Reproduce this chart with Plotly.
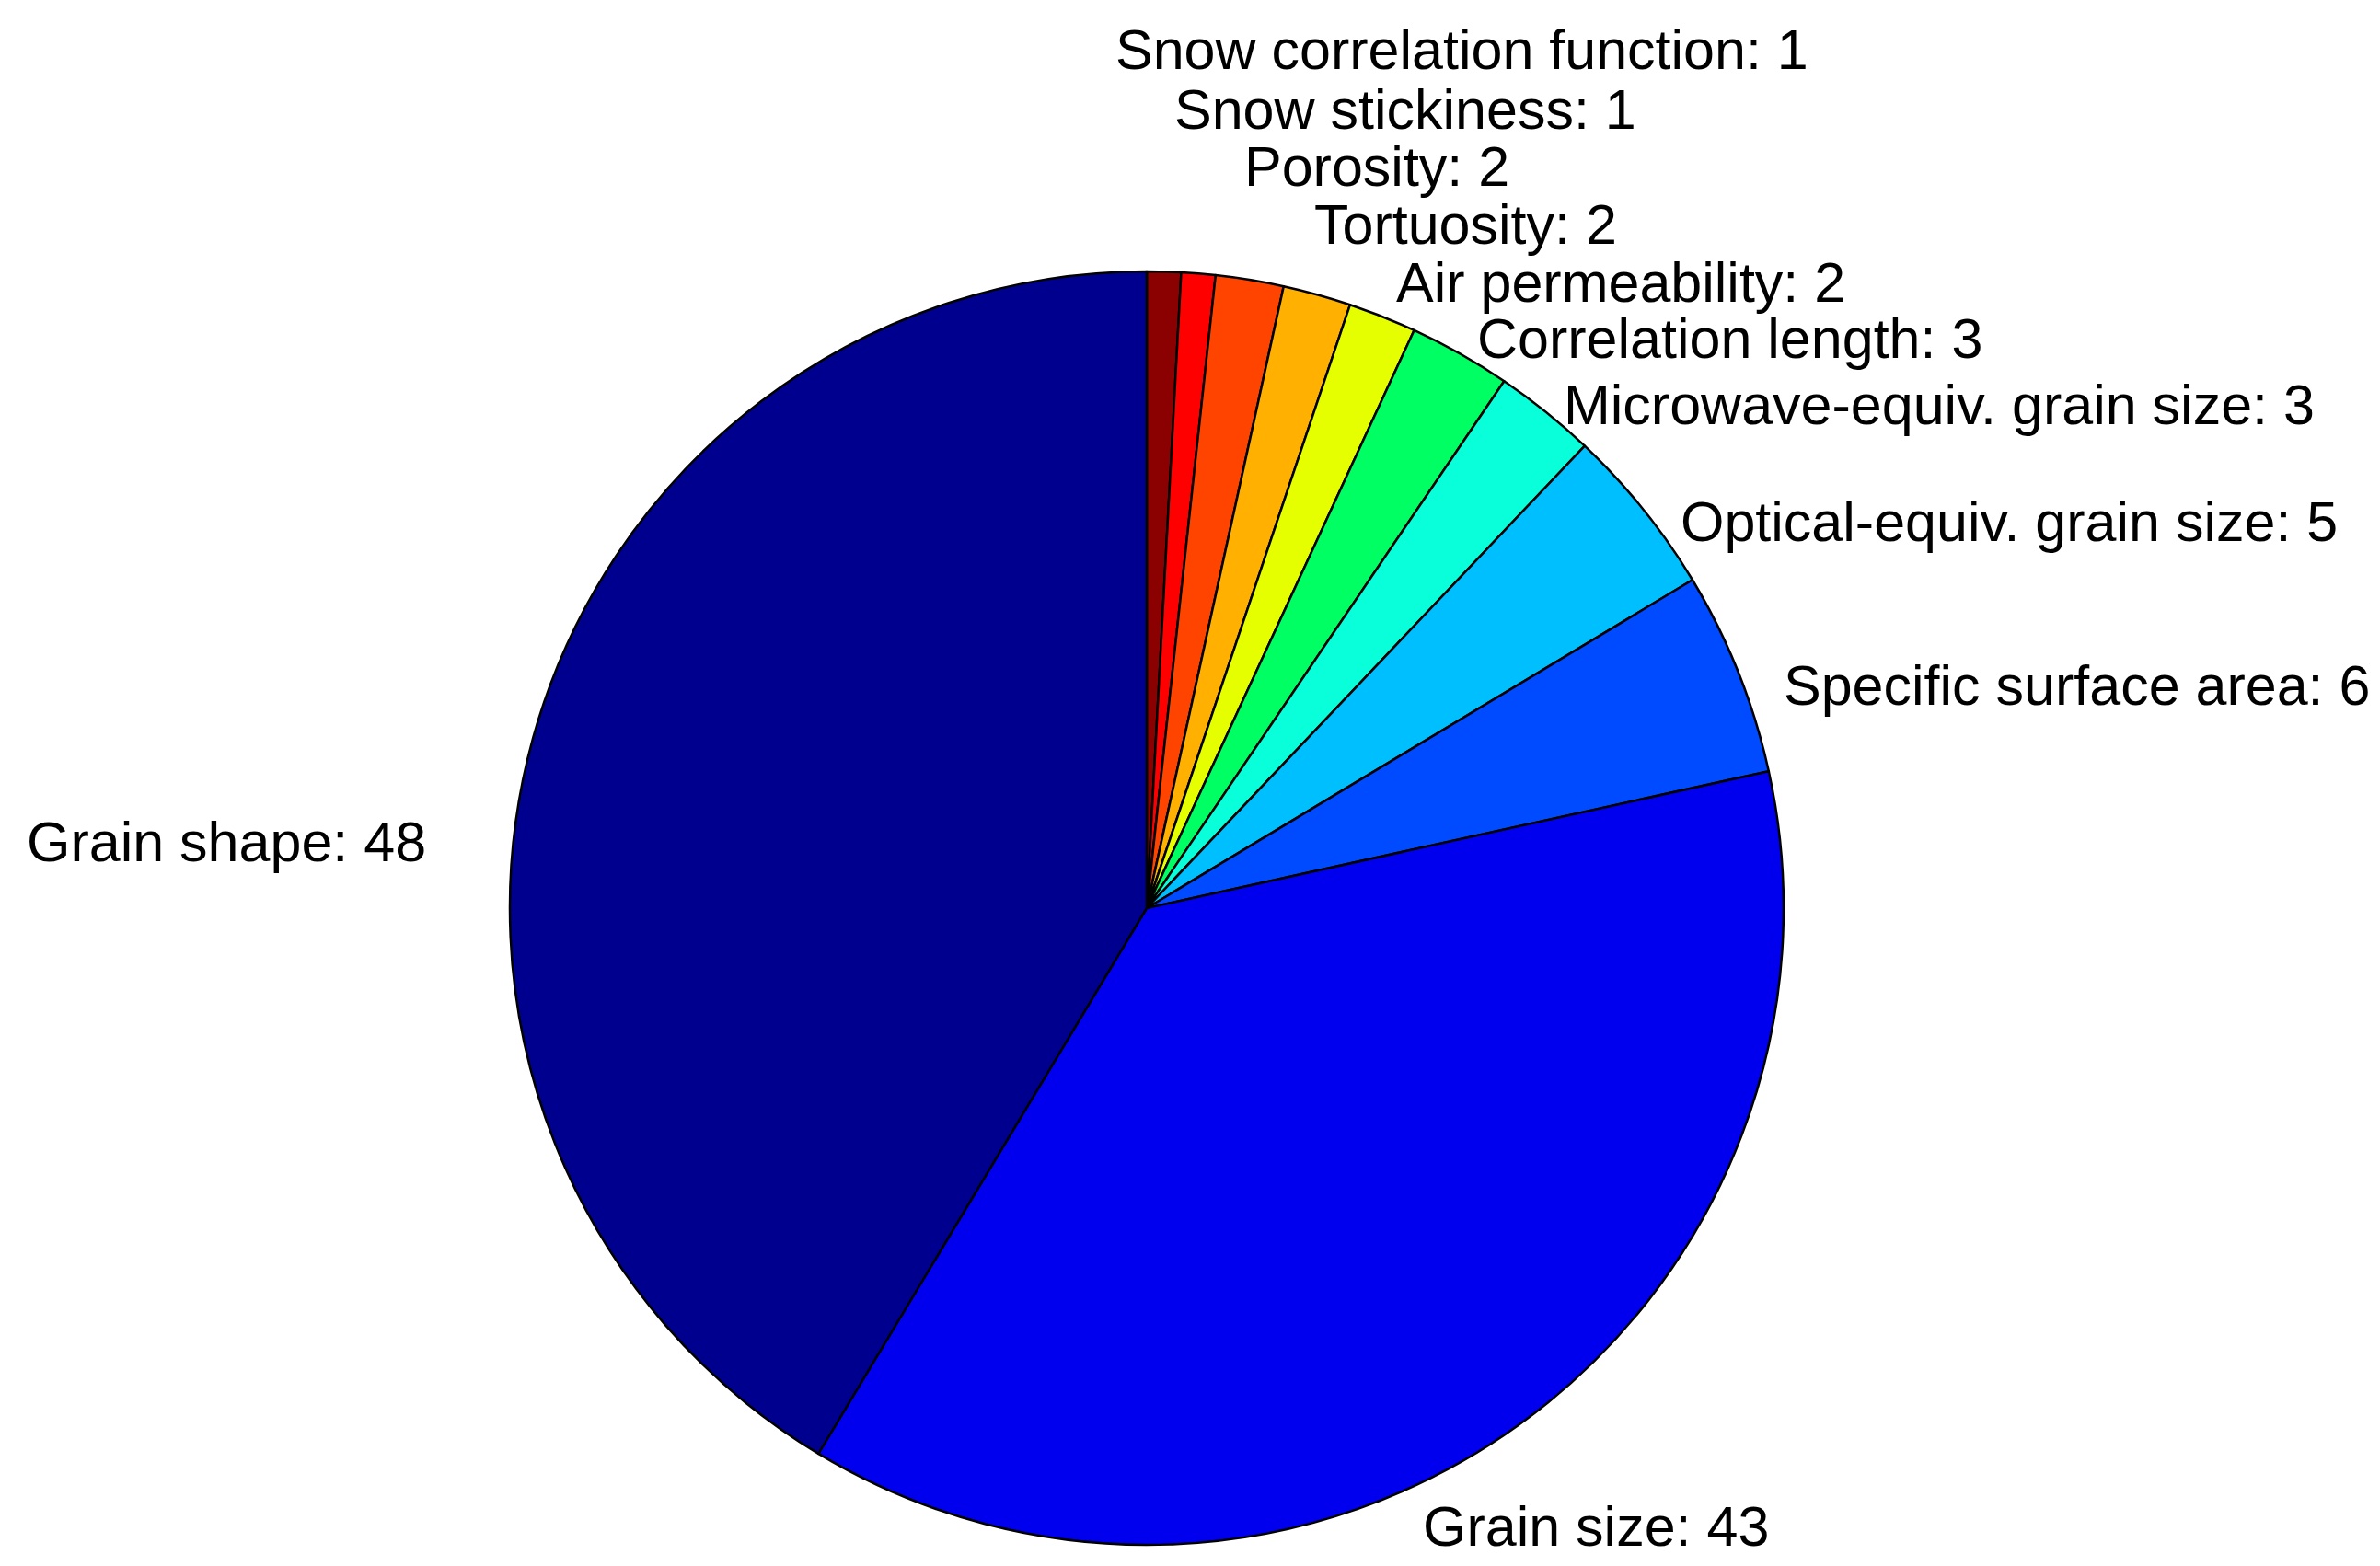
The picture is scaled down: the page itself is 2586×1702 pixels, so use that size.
"""
Pie of how often each snow microstructure parameter is reported.
MATLAB-style pie: counterclockwise from 12 o'clock, jet-like colours.
"""
import plotly.graph_objects as go

# data, in MATLAB order (counterclockwise from the top)
parameters = [
    "Grain shape", "Grain size", "Specific surface area",
    "Optical-equiv. grain size", "Microwave-equiv. grain size",
    "Correlation length", "Air permeability", "Tortuosity",
    "Porosity", "Snow stickiness", "Snow correlation function",
]
counts = [48, 43, 6, 5, 3, 3, 2, 2, 2, 1, 1]

slice_colors = [
    "#00008F", "#0000EF", "#004AFF", "#00BFFF", "#08FFDA",
    "#00FF62", "#E6FF00", "#FFB000", "#FF4400", "#FF0000", "#8B0000",
]

# label anchors (pixels in the 2586x1702 page) and alignment
label_px = [
    (457, 907, "right"), (1726, 1651, "center"), (1928, 737, "left"),
    (1816, 559, "left"), (1689, 432, "left"), (1595, 360, "left"),
    (1507, 299, "left"), (1418, 236, "left"), (1342, 173, "left"),
    (1266, 111, "left"), (1202, 46, "left"),
]

W, H = 2586, 1702
CX, CY, R = 1238, 979, 692
FONT = dict(family="Liberation Sans, Arial, Helvetica, sans-serif", size=61, color="black")

# plotly's counterclockwise mode offsets the first slice, so feed the
# slices reversed and go clockwise instead - same picture as MATLAB
fig = go.Figure(go.Pie(
    labels=parameters[::-1], values=counts[::-1],
    sort=False, direction="clockwise", rotation=0,
    marker=dict(colors=slice_colors[::-1], line=dict(color="black", width=2.5)),
    textinfo="none", hoverinfo="label+value",
    domain=dict(x=[(CX - R) / W, (CX + R) / W],
                y=[(H - CY - R) / H, (H - CY + R) / H]),
    showlegend=False,
))

for name, n, (px, py, align) in zip(parameters, counts, label_px):
    fig.add_annotation(
        x=px / W, y=1 - py / H, xref="paper", yref="paper",
        text=f"{name}: {n}", showarrow=False,
        xanchor=align, yanchor="middle", font=FONT,
    )

fig.update_layout(
    width=W, height=H,
    margin=dict(l=0, r=0, t=0, b=0),
    paper_bgcolor="white", plot_bgcolor="white",
)

fig.write_html("out.html")
